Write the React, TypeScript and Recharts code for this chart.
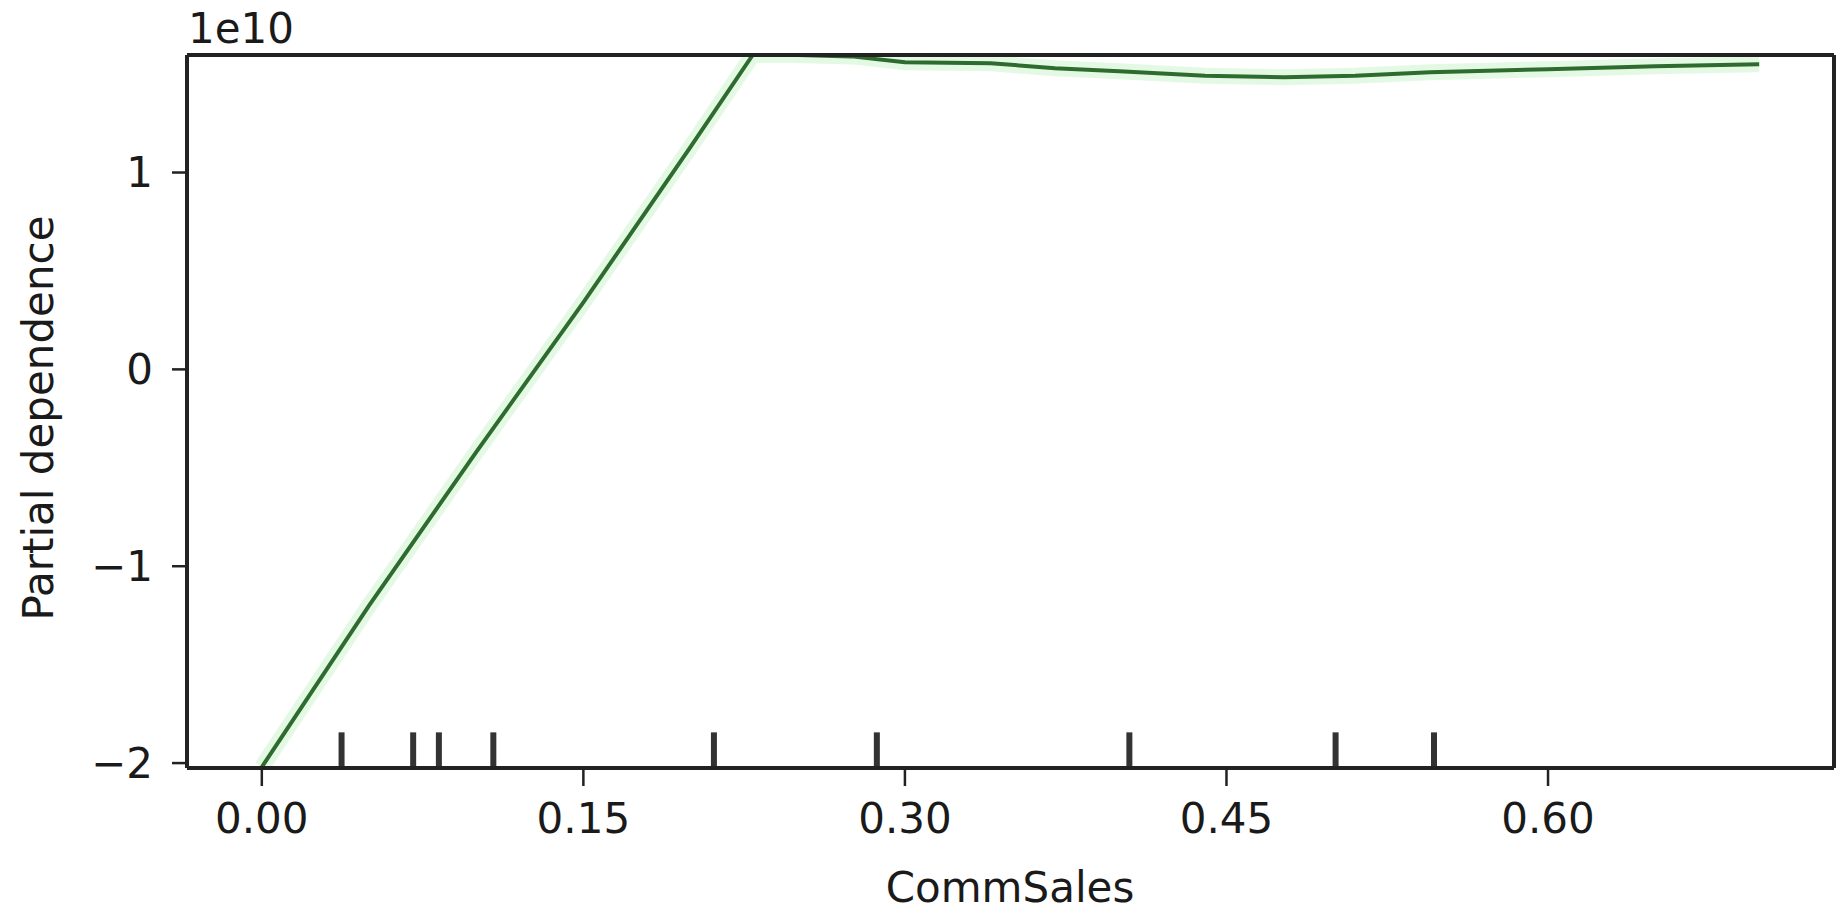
import React from 'react';
import { ComposedChart, Line, XAxis, YAxis, ReferenceLine } from 'recharts';

const commSales = [0, 0.05, 0.1, 0.15, 0.2, 0.229, 0.25, 0.275, 0.3, 0.34, 0.37, 0.4, 0.44, 0.477, 0.51, 0.545, 0.6, 0.65, 0.6985];
const partialDep = [-2.02, -1.2, -0.42, 0.34, 1.13, 1.597, 1.597, 1.59, 1.56, 1.555, 1.53, 1.515, 1.492, 1.484, 1.492, 1.509, 1.525, 1.54, 1.55];
const rugValues = [0.0372, 0.0706, 0.0826, 0.108, 0.2109, 0.2869, 0.4047, 0.5009, 0.5468];
const xTicks = [0, 0.15, 0.3, 0.45, 0.6];
const yTicks = [-2, -1, 0, 1];

const X_DOMAIN: [number, number] = [-0.0349, 0.7334];
const Y_DOMAIN: [number, number] = [-2.025, 1.597];

const data = commSales.map((x, i) => ({ x, pd: partialDep[i] }));

const FONT = '"DejaVu Sans", sans-serif';
const TXT = '#1a1a1a';
const SPINE = '#222222';

export default function App() {
  const rugTop = Y_DOMAIN[0] + 0.05 * (Y_DOMAIN[1] - Y_DOMAIN[0]);
  return (
    <div style={{ marginLeft: -8, marginTop: -8, width: 1848, height: 917, background: '#fff' }}>
      <ComposedChart width={1848} height={917} data={data} margin={{ top: 55, right: 14, left: 0, bottom: 0 }}>
        <XAxis
          dataKey="x"
          type="number"
          domain={X_DOMAIN}
          ticks={xTicks}
          allowDataOverflow
          tickFormatter={(v: number) => v.toFixed(2)}
          height={149}
          tickSize={18}
          tickMargin={17}
          stroke={SPINE}
          strokeWidth={4}
          tick={{ fill: TXT, fontSize: 42, fontFamily: FONT }}
          tickLine={{ stroke: SPINE, strokeWidth: 2.5 }}
          label={(p: any) => (
            <text x={1010} y={902} textAnchor="middle" fill={TXT} fontSize={42} fontFamily={FONT}>CommSales</text>
          )}
        />
        <YAxis
          type="number"
          domain={Y_DOMAIN}
          ticks={yTicks}
          allowDataOverflow
          width={187}
          tickSize={15}
          tickMargin={19}
          stroke={SPINE}
          strokeWidth={4}
          tickFormatter={(v: number) => (v < 0 ? '\u2212' + Math.abs(v) : String(v))}
          tick={{ fill: TXT, fontSize: 42, fontFamily: FONT }}
          tickLine={{ stroke: SPINE, strokeWidth: 2.5 }}
          label={(p: any) => (
            <text x={53} y={418} textAnchor="middle" transform="rotate(-90 53 418)" fill={TXT} fontSize={42} fontFamily={FONT}>Partial dependence</text>
          )}
        />
        {rugValues.map((r, i) => (
          <ReferenceLine
            key={i}
            segment={[{ x: r, y: Y_DOMAIN[0] }, { x: r, y: rugTop }]}
            stroke="#333333"
            strokeWidth={6}
          />
        ))}
        <Line dataKey="pd" type="linear" stroke="#d9f7d9" strokeWidth={16} dot={false} isAnimationActive={false} strokeOpacity={0.7} />
        <Line dataKey="pd" type="linear" stroke="#2e6b2e" strokeWidth={4} dot={false} isAnimationActive={false} />
        <ReferenceLine
          y={Y_DOMAIN[1]}
          stroke={SPINE}
          strokeWidth={4}
          label={(p: any) => (
            <text x={188} y={43} textAnchor="start" fill={TXT} fontSize={42} fontFamily={FONT}>1e10</text>
          )}
        />
        <ReferenceLine x={X_DOMAIN[1]} stroke={SPINE} strokeWidth={4} />
      </ComposedChart>
    </div>
  );
}
